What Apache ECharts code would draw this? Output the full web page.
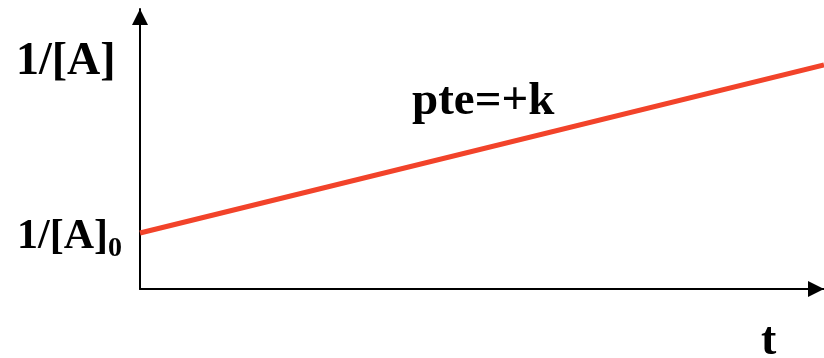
<!DOCTYPE html>
<html>
<head>
<meta charset="utf-8">
<script src="https://cdn.jsdelivr.net/npm/echarts@6/dist/echarts.min.js"></script>
<style>
  html, body { margin: 0; padding: 0; background: #fff; }
  #chart { width: 824px; height: 358px; }
</style>
</head>
<body>
<div id="chart"></div>
<script>
// Second-order kinetics: 1/[A] grows linearly with time
const timePoints = [0, 10];
const inverseConc = [20, 80];
const interceptValue = 20;
const yAxisTitle = '1/[A]';
const interceptLabel = ['1/[A]', '0'];
const xAxisTitle = 't';
const slopeLabel = 'pte=+k';

const serif = '"Liberation Serif", "DejaVu Serif", serif';

const chart = echarts.init(document.getElementById('chart'), null, { renderer: 'canvas' });

const axisArrow = {
  show: true,
  symbol: ['none', 'triangle'],
  symbolSize: [16, 16],
  symbolOffset: [0, -8],
  lineStyle: { color: '#000', width: 2 }
};

chart.setOption({
  backgroundColor: '#ffffff',
  animation: false,
  grid: { left: 140, right: 0, top: 9, bottom: 69, containLabel: false },
  xAxis: {
    type: 'value',
    min: 0,
    max: 10,
    axisLine: axisArrow,
    axisTick: { show: false },
    axisLabel: { show: false },
    splitLine: { show: false }
  },
  yAxis: {
    type: 'value',
    min: 0,
    max: 100,
    interval: 20,
    axisLine: axisArrow,
    axisTick: { show: false },
    splitLine: { show: false },
    axisLabel: {
      show: true,
      margin: 18,
      padding: [8, 0, 0, 0],
      formatter: function (v) {
        return v === interceptValue ? '{m|' + interceptLabel[0] + '}{s|' + interceptLabel[1] + '}' : '';
      },
      rich: {
        m: { fontFamily: serif, fontWeight: 'bold', fontSize: 42, color: '#000', lineHeight: 46 },
        s: { fontFamily: serif, fontWeight: 'bold', fontSize: 28, color: '#000', padding: [24, 0, 0, 0], lineHeight: 46 }
      }
    }
  },
  series: [{
    type: 'line',
    data: timePoints.map((t, i) => [t, inverseConc[i]]),
    symbol: 'none',
    lineStyle: { color: '#f2432a', width: 5 },
    silent: true
  }],
  graphic: [
    {
      type: 'text',
      left: 16, top: 39,
      style: { text: yAxisTitle, font: 'bold 46px ' + serif, fill: '#000' }
    },
    {
      type: 'text',
      left: 412, top: 78,
      style: { text: slopeLabel, font: 'bold 47px ' + serif, fill: '#000' }
    },
    {
      type: 'text',
      left: 761, top: 319,
      style: { text: xAxisTitle, font: 'bold 46px ' + serif, fill: '#000' }
    }
  ]
});
</script>
</body>
</html>
